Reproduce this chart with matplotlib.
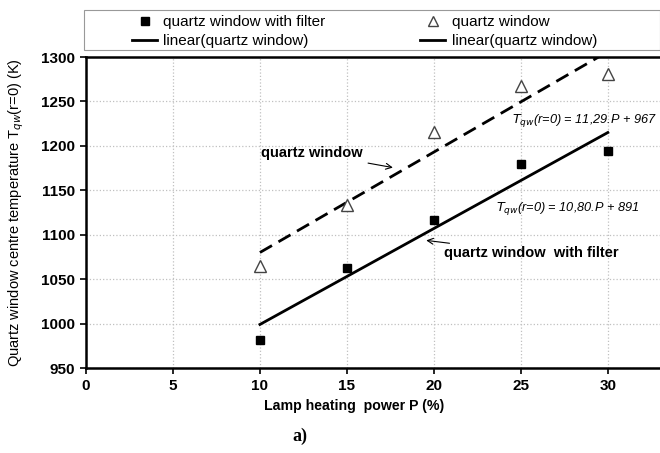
import matplotlib.pyplot as plt
from matplotlib.lines import Line2D
from matplotlib.patches import Rectangle

plt.rcParams['font.family'] = ['Liberation Sans', 'DejaVu Sans']

# dados
power = [10, 15, 20, 25, 30]
t_filter = [982, 1063, 1116, 1180, 1194]
t_quartz = [1065, 1133, 1216, 1267, 1281]

# retas de ajuste (extremos em P = 10 e P = 30)
fit_p = [10, 30]
fit_filter = [999, 1215]
fit_quartz = [1080, 1306]

x_ticks = [0, 5, 10, 15, 20, 25, 30]
y_ticks = [950, 1000, 1050, 1100, 1150, 1200, 1250, 1300]

W, H = 660, 453
fig = plt.figure(figsize=(W / 100, H / 100), dpi=100)
ax = fig.add_axes([86 / W, 1 - 368 / H, 1 - 86 / W, (368 - 57) / H])

ax.plot(fit_p, fit_filter, color='black', lw=2)
ax.plot(fit_p, fit_quartz, color='black', lw=2, dashes=(5, 2.7))
ax.plot(power, t_filter, 's', color='black', ms=6, ls='none')
ax.plot(power, t_quartz, '^', mfc='white', mec='#444444', mew=1, ms=8, ls='none')

ax.set_xlim(0, 33)
ax.set_ylim(950, 1300)
ax.set_xticks(x_ticks)
ax.set_yticks(y_ticks)
ax.grid(True, color='#c0c0c0', ls=':', lw=0.9)
ax.set_axisbelow(True)
for lab in ax.get_xticklabels() + ax.get_yticklabels():
    lab.set_fontweight('bold')
ax.tick_params(labelsize=11, length=4, width=1.2, direction='out', pad=4)
for s in ['left', 'bottom', 'top']:
    ax.spines[s].set_linewidth(1.8)
ax.spines['right'].set_visible(False)

ax.set_xlabel('Lamp heating  power P (%)', fontsize=10.2, fontweight='bold')
ax.xaxis.set_label_coords(0.467, -0.100)
ax.set_ylabel('Quartz window centre temperature T$_{qw}$(r=0) (K)', fontsize=10.5)
ax.yaxis.set_label_coords(-0.104, 0.5)

# anotacoes
ax.annotate('quartz window', xy=(17.8, 1175), xytext=(15.9, 1192),
            ha='right', va='center', fontsize=10.5, fontweight='bold',
            arrowprops=dict(arrowstyle='->', color='black', lw=0.8))
ax.annotate('quartz window  with filter', xy=(19.4, 1094), xytext=(20.6, 1079),
            ha='left', va='center', fontsize=10.5, fontweight='bold',
            arrowprops=dict(arrowstyle='->', color='black', lw=0.8))
ax.text(24.5, 1229, '$T_{qw}$(r=0) = 11,29.P + 967', fontsize=9.2, style='italic',
        ha='left', va='center')
ax.text(23.55, 1130, '$T_{qw}$(r=0) = 10,80.P + 891', fontsize=9.2, style='italic',
        ha='left', va='center')

# legenda (moldura desenhada a parte)
fig.patches.append(Rectangle((84 / W, 1 - 50 / H), 1 - 84 / W - 0.5 / W, 40 / H,
                             transform=fig.transFigure, fill=False,
                             edgecolor='#999999', lw=0.8))
handles = [
    Line2D([], [], marker='s', color='black', ls='none', ms=6),
    Line2D([], [], color='black', lw=2),
    Line2D([], [], marker='^', mfc='white', mec='#444444', ls='none', ms=7),
    Line2D([], [], color='black', lw=2),
]
labels = ['quartz window with filter', 'linear(quartz window)',
          'quartz window', 'linear(quartz window)']
fig.legend(handles, labels, ncol=2, loc='upper left',
           bbox_to_anchor=(132 / W, 1 - 15 / H), fontsize=11,
           frameon=False, borderaxespad=0, borderpad=0,
           handlelength=1.65, handletextpad=0.4, labelspacing=0.35,
           columnspacing=6.2)

fig.text(300 / W, 1 - 436 / H, 'a)', fontsize=13, fontweight='bold',
         family=['Liberation Serif', 'DejaVu Serif'], ha='center', va='center')

fig.savefig('out.png', dpi=100)
